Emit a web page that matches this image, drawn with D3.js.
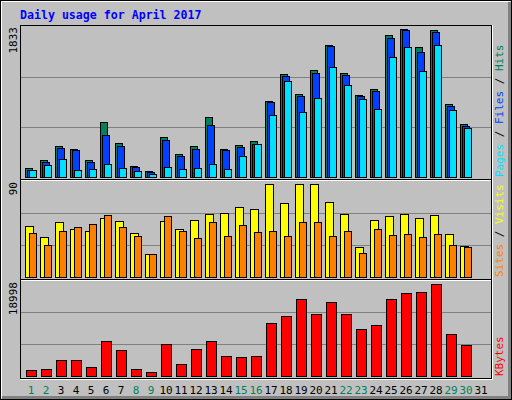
<!DOCTYPE html>
<html><head><meta charset="utf-8">
<script src="https://cdn.jsdelivr.net/npm/d3@7"></script>
<style>body{margin:0;background:#fff}</style></head>
<body><svg id="c" width="512" height="400"></svg>
<script>
const days = d3.range(1,32);
const weekend = [1,2,8,9,15,16,22,23,29,30];
const hits  = [103,200,371,342,200,665,408,127,66,481,274,371,726,342,384,433,921,1251,1007,1300,1606,1264,995,1068,1728,1801,1581,1789,885,640,0];
const files = [78,183,347,323,176,506,371,115,54,445,249,335,628,323,359,396,909,1227,983,1264,1593,1239,983,1044,1691,1789,1520,1765,860,616,0];
const pages = [78,139,213,78,90,152,103,66,29,115,90,103,152,90,249,396,750,1166,787,958,1337,1117,946,824,1459,1581,1288,1606,811,591,0];
const visits= [47,37,51,45,43,55,52,41,21,52,45,53,59,60,65,63,87,69,87,87,70,59,28,53,57,59,55,58,40,29,0];
const sites = [41,30,43,46,49,58,46,38,21,57,43,36,51,38,48,42,43,38,51,51,38,43,22,45,39,40,37,40,30,28,0];
const kbytes= [1080,1280,3080,3080,1680,6880,5080,1280,680,6280,2280,5280,6880,3880,3680,3880,10480,11880,15280,12280,14680,12280,9280,10080,15280,16480,16680,18280,8280,6080,0];
const maxTop=1833, maxMid=90, maxBot=18998;
const C={hits:"#00805C",files:"#0040FF",pages:"#00E0FF",visits:"#FFFF00",sites:"#FF8000",kb:"#FF0000"};

const svg=d3.select("#c");
const mono="DejaVu Sans Mono, monospace";
// frame
svg.append("rect").attr("x",0).attr("y",0).attr("width",512).attr("height",400).attr("fill","#C0C0C0");
svg.append("path").attr("d","M1.5,398.5V1.5H510.5").attr("stroke","#fff").attr("fill","none");
svg.append("path").attr("d","M2,397.5H509.5V2").attr("stroke","#808080").attr("stroke-width",3).attr("fill","none");
svg.append("rect").attr("x",0.5).attr("y",0.5).attr("width",511).attr("height",399).attr("fill","none").attr("stroke","#000");
svg.append("text").attr("x",20).attr("y",19).attr("font-family",mono).attr("font-weight","bold").attr("font-size",11.6).attr("fill","#0000FF").text("Daily usage for April 2017");

const L=20,R=491;
const x=d3.scaleBand().domain(days).range([L,L+15*31]);
function panel(y0,y1,base,top,max){
  svg.append("rect").attr("x",L+0.5).attr("y",y0+0.5).attr("width",R-L).attr("height",y1-y0).attr("fill","none").attr("stroke","#000");
  svg.append("path").attr("d",`M${R+1.5},${y0}V${y1+1.5}H${L}`).attr("stroke","#fff").attr("fill","none");
  const y=d3.scaleLinear().domain([0,max]).range([base,top]);
  [1/3,2/3].forEach(f=>svg.append("line").attr("x1",L+1).attr("x2",R).attr("y1",Math.round(y(max*f))+0.5).attr("y2",Math.round(y(max*f))+0.5).attr("stroke","#808080"));
  return y;
}
function bars(data,y,dx,w,col){
  svg.append("g").selectAll("rect").data(days.filter((d,i)=>data[i]>0)).join("rect")
   .attr("x",d=>x(d)+dx+0.5).attr("y",d=>Math.round(y(data[d-1]))+0.5)
   .attr("width",w).attr("height",d=>Math.round(y(0))-Math.round(y(data[d-1])))
   .attr("fill",col).attr("stroke","#000");
}
const yT=panel(25,179,176.5,26.5,maxTop);
bars(hits,yT,5,7,C.hits);bars(files,yT,7,7,C.files);bars(pages,yT,9,7,C.pages);
const yM=panel(179,279,276.5,180.5,maxMid);
bars(visits,yM,5,8,C.visits);bars(sites,yM,9,7,C.sites);
const yB=panel(279,378,375.5,280.5,maxBot);
bars(kbytes,yB,6,10,C.kb);
// separators white under black lines
[180,280].forEach(v=>svg.append("line").attr("x1",L+1).attr("x2",R).attr("y1",v+0.5).attr("y2",v+0.5).attr("stroke","#fff"));

// day labels
svg.append("g").selectAll("text").data(days).join("text")
 .attr("x",d=>x(d)+11).attr("y",394).attr("text-anchor","middle").attr("font-family",mono).attr("font-size",11)
 .attr("fill",d=>weekend.includes(d)?"#00805C":"#000").text(d=>d);

// left max labels
function vtext(xp,yp,parts,anchor){
  const t=svg.append("text").attr("transform",`translate(${xp},${yp}) rotate(-90)`).attr("font-family",mono).attr("font-size",11).attr("text-anchor",anchor);
  parts.forEach(p=>t.append("tspan").attr("fill",p[1]).text(p[0]));
}
vtext(17,27,[[String(maxTop),"#000"]],"end");
vtext(17,182,[[String(maxMid),"#000"]],"end");
vtext(17,282,[[String(maxBot),"#000"]],"end");
vtext(503,177,[["Pages",C.pages],[" / ","#000"],["Files",C.files],[" / ","#000"],["Hits",C.hits]],"start");
vtext(503,277,[["Sites",C.sites],[" / ","#000"],["Visits",C.visits]],"start");
vtext(503,376,[["KBytes",C.kb]],"start");
</script></body></html>
